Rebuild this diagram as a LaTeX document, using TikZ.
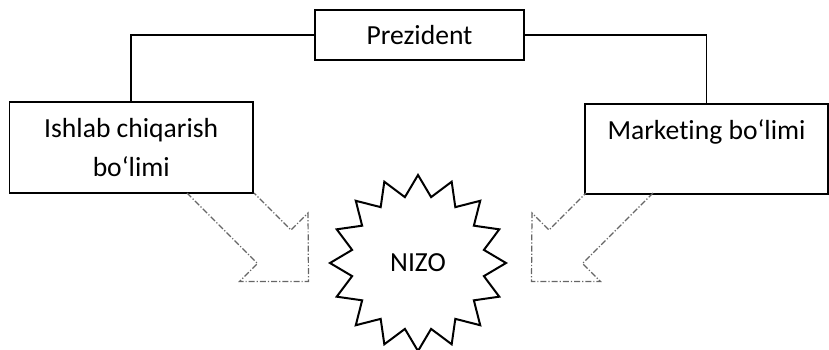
\documentclass[tikz,border=0pt]{standalone}
\usepackage{fontspec}
\setmainfont{Carlito}[Ligatures=NoCommon]
\usetikzlibrary{shapes.geometric}

\begin{document}
\begin{tikzpicture}[x=0.5pt,y=-0.5pt,
  box/.style={draw,line width=0.9pt,fill=white,inner sep=0pt},
  blockarrow/.style={gray!80!black,line width=0.6pt,densely dashdotted}]
  \fontsize{13.8}{19.5}\selectfont
  \useasboundingbox (0,0) rectangle (829,349);

  % Rahbariyat va bo'limlar
  \node (prez) [box,minimum width=104.5pt,minimum height=25pt] at (419.5,35) {Prezident};
  \node (ishlab) [box,minimum width=121.75pt,minimum height=45.5pt,align=center] at (131.25,147.5) {Ishlab chiqarish\\bo‘limi};
  \node (mark) [box,minimum width=121.5pt,minimum height=45pt] at (706.5,149) {};
  \node (marktxt) at ([yshift=-14.5pt]mark.north) {Marketing bo‘limi};

  \draw[line width=0.9pt] (prez.west) -| (ishlab.north);
  \draw[line width=0.9pt] (prez.east) -| (mark.north);

  % Nizo
  \node (nizo) [draw,line width=1pt,star,star points=16,star point ratio=1.31,
    minimum size=88pt,inner sep=0pt] at (418,263) {NIZO};

  % Strelkalar
  \foreach \s in {1,-1} {
    \begin{scope}[shift={(420,0)},xscale=\s]
      \draw[blockarrow] (-233,193) -- (-162.5,263.5) -- (-180.5,281.5) -- (-111.5,281.5)
        -- (-112,213) -- (-129,230) -- (-166,193);
    \end{scope}
  }
\end{tikzpicture}
\end{document}
